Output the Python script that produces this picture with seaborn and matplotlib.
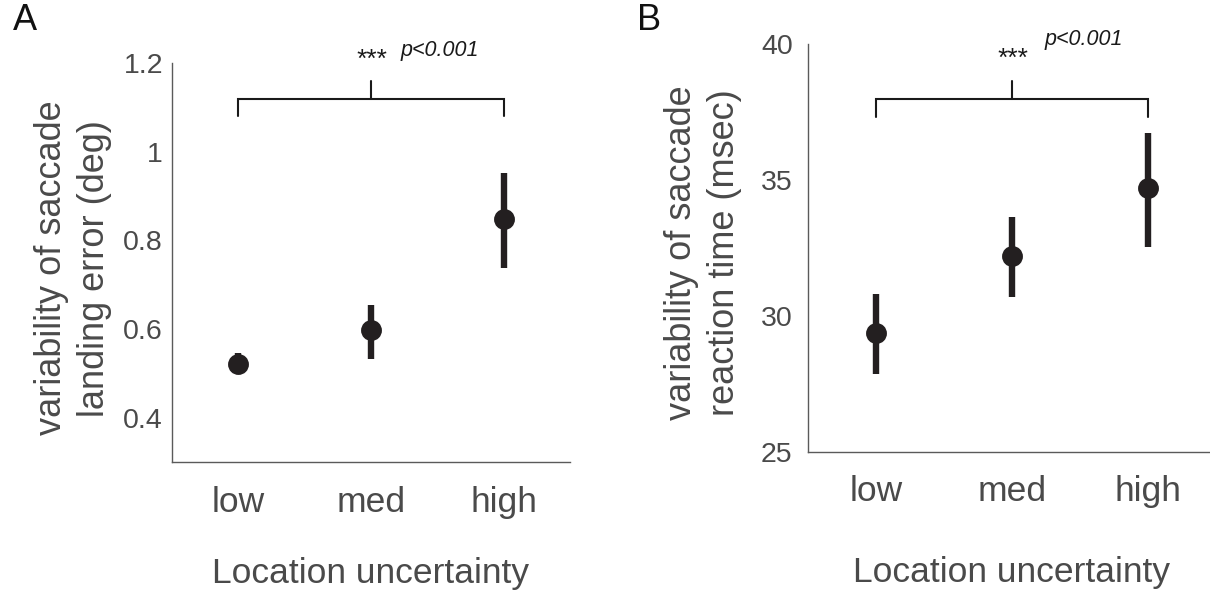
import matplotlib
matplotlib.use("Agg")
import matplotlib.pyplot as plt
import seaborn as sns
import pandas as pd

# ---- data ----
categories = ["low", "med", "high"]
landing_mean = [0.522, 0.597, 0.847]
landing_lower = [0.499, 0.533, 0.737]
landing_upper = [0.545, 0.655, 0.951]
rt_mean = [29.37, 32.20, 34.70]
rt_lower = [27.87, 30.70, 32.55]
rt_upper = [30.81, 33.64, 36.73]
landing_yticks = [0.4, 0.6, 0.8, 1.0, 1.2]
landing_yticklabels = ["0.4", "0.6", "0.8", "1", "1.2"]
rt_yticks = [25, 30, 35, 40]
sig_text = "***"
p_text = "p<0.001"

sns.set_style("white")
plt.rcParams["font.family"] = ["Liberation Sans", "DejaVu Sans"]

TXT = "#4a4a4a"
AX = "#5a5a5a"
MK = "#231f20"

fig = plt.figure(figsize=(12.10, 5.94), dpi=100)
axA = fig.add_axes([172/1210, 1-462/594, 398/1210, 399/594])
axB = fig.add_axes([808/1210, 1-452/594, 408/1210, 408/594])


def draw(ax, mean, lower, upper, ylim, yticks, yticklabels, ylabel, ypad,
         xpad, xlab_y, bracket, sig_y, p_x, p_y, lab_x, lab_y):
    df = pd.DataFrame({"cond": categories, "val": mean})
    ax.vlines(range(len(categories)), lower, upper, color=MK, linewidth=4.6,
              zorder=2)
    sns.pointplot(data=df, x="cond", y="val", order=categories, ax=ax,
                  color=MK, linestyle="none", markersize=13, errorbar=None,
                  zorder=3)
    ax.set_xlim(-0.5, 2.5)
    ax.set_ylim(*ylim)
    ax.set_yticks(yticks)
    ax.set_yticklabels(yticklabels)
    for s in ["top", "right"]:
        ax.spines[s].set_visible(False)
    for s in ["left", "bottom"]:
        ax.spines[s].set_color(AX)
        ax.spines[s].set_linewidth(1.0)
    ax.tick_params(axis="both", direction="in", length=3.5, width=0.8,
                   color=AX, labelcolor=TXT)
    ax.tick_params(axis="x", labelsize=25.5, pad=xpad)
    ax.tick_params(axis="y", labelsize=20.5, pad=ypad)
    ax.set_xlabel("Location uncertainty", fontsize=25.5, color=TXT)
    ax.xaxis.set_label_coords(0.5, xlab_y)
    ax.set_ylabel(ylabel, fontsize=26, color=TXT, linespacing=1.3)
    ax.yaxis.set_label_coords(lab_x, lab_y)
    # significance bracket
    h, d, t = bracket
    ax.plot([0, 0, 2, 2], [d, h, h, d], color="#1a1a1a", linewidth=1.5,
            clip_on=False, solid_joinstyle="miter")
    ax.plot([1, 1], [h, t], color="#1a1a1a", linewidth=1.5, clip_on=False)
    ax.text(1.0, sig_y, sig_text, ha="center", va="center", fontsize=19,
            style="italic", color="#1a1a1a", clip_on=False)
    ax.text(p_x, p_y, p_text, ha="left", va="center", fontsize=15.5,
            style="italic", color="#1a1a1a", clip_on=False)
    ax.grid(False)


draw(axA, landing_mean, landing_lower, landing_upper, (0.3, 1.2),
     landing_yticks, landing_yticklabels,
     "variability of saccade\nlanding error (deg)", 6.5, 17.5, -0.238,
     (1.119, 1.08, 1.16), 1.207, 1.22, 1.229, -0.15, 0.486)
draw(axB, rt_mean, rt_lower, rt_upper, (25, 40),
     rt_yticks, [str(v) for v in rt_yticks],
     "variability of saccade\nreaction time (msec)", 11, 16.5, -0.254,
     (37.98, 37.30, 38.65), 39.45, 1.24, 40.15, -0.162, 0.488)

fig.text(13/1210, 1-3/594, "A", ha="left", va="top", fontsize=26,
         color="#111111")
fig.text(637/1210, 1-3/594, "B", ha="left", va="top", fontsize=26,
         color="#111111")

fig.savefig("out.png", dpi=100)
